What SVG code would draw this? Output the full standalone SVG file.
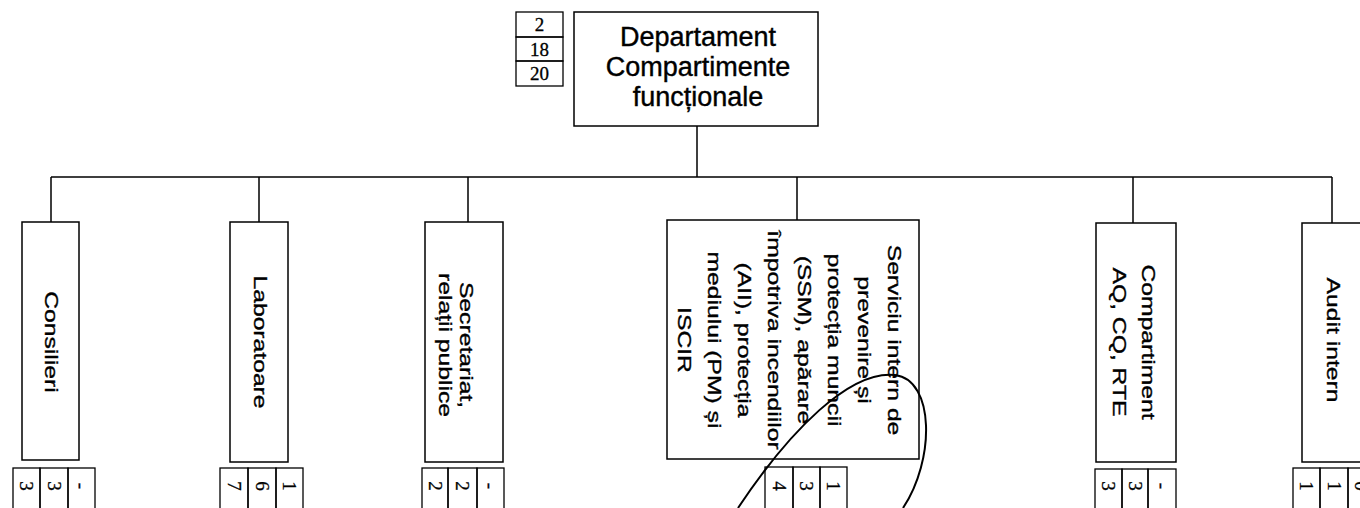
<svg xmlns="http://www.w3.org/2000/svg" width="1360" height="508" viewBox="0 0 1360 508">
<style>
.box{fill:#fff;stroke:#000;stroke-width:1.5}
.cell{fill:none;stroke:#000;stroke-width:1.3}
.ln{fill:none;stroke:#000;stroke-width:1.5}
.curve{fill:none;stroke:#000;stroke-width:2}
.lbl{font-family:"Liberation Sans",Arial,sans-serif;font-size:19px;fill:#000;stroke:#000;stroke-width:0.35;text-anchor:middle}
.top{font-family:"Liberation Sans",Arial,sans-serif;font-size:27px;fill:#000;stroke:#000;stroke-width:0.4;text-anchor:middle}
.num{font-family:"Liberation Serif","Times New Roman",serif;font-size:19px;fill:#000;stroke:#000;stroke-width:0.3;text-anchor:middle}
</style>
<rect width="1360" height="508" fill="#fff"/>
<g id="connectors">
<path class="ln" d="M697 126V177M51 177H1332M51 177V222M259 177V222M468 177V222M797 177V220M1133 177V223M1332 177V223"/>
</g>
<g id="node-top">
<rect class="box" x="574" y="12" width="244" height="114"/>
<text class="top" x="698"><tspan x="698" y="46">Departament</tspan><tspan x="698" y="76">Compartimente</tspan><tspan x="698" y="106">funcționale</tspan></text>
<rect class="cell" x="516" y="12" width="47" height="25"/>
<rect class="cell" x="516" y="37" width="47" height="24"/>
<rect class="cell" x="516" y="61" width="47" height="25"/>
<text class="num" x="539.5" y="31">2</text>
<text class="num" x="539.5" y="56">18</text>
<text class="num" x="539.5" y="80">20</text>
</g>
<g id="node-consilieri">
<rect class="box" x="22" y="222" width="57" height="238"/>
<text class="lbl" transform="translate(44.5,342) rotate(90) scale(1.3,1)" x="0" y="0">Consilieri</text>
<rect class="cell" x="13" y="468" width="27" height="60"/>
<rect class="cell" x="40" y="468" width="28" height="60"/>
<rect class="cell" x="68" y="468" width="27" height="60"/>
<text class="num" transform="translate(20,486) rotate(90)">3</text>
<text class="num" transform="translate(47.5,486) rotate(90)">3</text>
<text class="num" transform="translate(75,486) rotate(90)">-</text>
</g>
<g id="node-laboratoare">
<rect class="box" x="230" y="222" width="58" height="240"/>
<text class="lbl" transform="translate(253.5,342) rotate(90) scale(1.3,1)" x="0" y="0">Laboratoare</text>
<rect class="cell" x="220" y="468" width="28" height="60"/>
<rect class="cell" x="248" y="468" width="28" height="60"/>
<rect class="cell" x="276" y="468" width="27" height="60"/>
<text class="num" transform="translate(227.5,486) rotate(90)">7</text>
<text class="num" transform="translate(255.5,486) rotate(90)">6</text>
<text class="num" transform="translate(283,486) rotate(90)">1</text>
</g>
<g id="node-secretariat">
<rect class="box" x="425" y="222" width="78" height="240"/>
<text class="lbl" transform="translate(460,345) rotate(90) scale(1.3,1)"><tspan x="0" y="0">Secretariat,</tspan><tspan x="0" y="21">relații publice</tspan></text>
<rect class="cell" x="422" y="468" width="26" height="60"/>
<rect class="cell" x="448" y="468" width="29" height="60"/>
<rect class="cell" x="477" y="468" width="27" height="60"/>
<text class="num" transform="translate(428.5,486) rotate(90)">2</text>
<text class="num" transform="translate(456,486) rotate(90)">2</text>
<text class="num" transform="translate(484,486) rotate(90)">-</text>
</g>
<g id="node-serviciu">
<rect class="box" x="667" y="220" width="252" height="239"/>
<text class="lbl" transform="translate(888,340) rotate(90) scale(1.3,1)"><tspan x="0" y="0">Serviciu intern de</tspan><tspan x="0" y="30">prevenire și</tspan><tspan x="0" y="60">protecția muncii</tspan><tspan x="0" y="90">(SSM), apărare</tspan><tspan x="0" y="120">împotriva incendiilor</tspan><tspan x="0" y="150">(AII), protecția</tspan><tspan x="0" y="180">mediului (PM) și</tspan><tspan x="0" y="210">ISCIR</tspan></text>
<rect class="cell" x="765" y="467" width="28" height="60"/>
<rect class="cell" x="793" y="467" width="27" height="60"/>
<rect class="cell" x="820" y="467" width="27" height="60"/>
<text class="num" transform="translate(772.5,486) rotate(90)">4</text>
<text class="num" transform="translate(800,486) rotate(90)">3</text>
<text class="num" transform="translate(827,486) rotate(90)">1</text>
</g>
<g id="node-compartiment">
<rect class="box" x="1096" y="223" width="80" height="239"/>
<text class="lbl" transform="translate(1142,342) rotate(90) scale(1.3,1)"><tspan x="0" y="0">Compartiment</tspan><tspan x="0" y="29">AQ, CQ, RTE</tspan></text>
<rect class="cell" x="1095" y="469" width="27" height="60"/>
<rect class="cell" x="1122" y="469" width="26" height="60"/>
<rect class="cell" x="1148" y="469" width="28" height="60"/>
<text class="num" transform="translate(1102,486) rotate(90)">3</text>
<text class="num" transform="translate(1128.5,486) rotate(90)">3</text>
<text class="num" transform="translate(1155.5,486) rotate(90)">-</text>
</g>
<g id="node-audit">
<rect class="box" x="1302" y="223" width="100" height="239"/>
<text class="lbl" transform="translate(1327,340) rotate(90) scale(1.3,1)" x="0" y="0">Audit intern</text>
<rect class="cell" x="1293" y="468" width="27" height="60"/>
<rect class="cell" x="1320" y="468" width="28" height="60"/>
<rect class="cell" x="1348" y="468" width="27" height="60"/>
<text class="num" transform="translate(1300,486) rotate(90)">1</text>
<text class="num" transform="translate(1327.5,486) rotate(90)">1</text>
<text class="num" transform="translate(1355,486) rotate(90)">0</text>
</g>
<g id="annotation">
<path class="curve" d="M738 508C790 430 850 370 895 375C935 380 935 460 903 508"/>
</g>
</svg>
